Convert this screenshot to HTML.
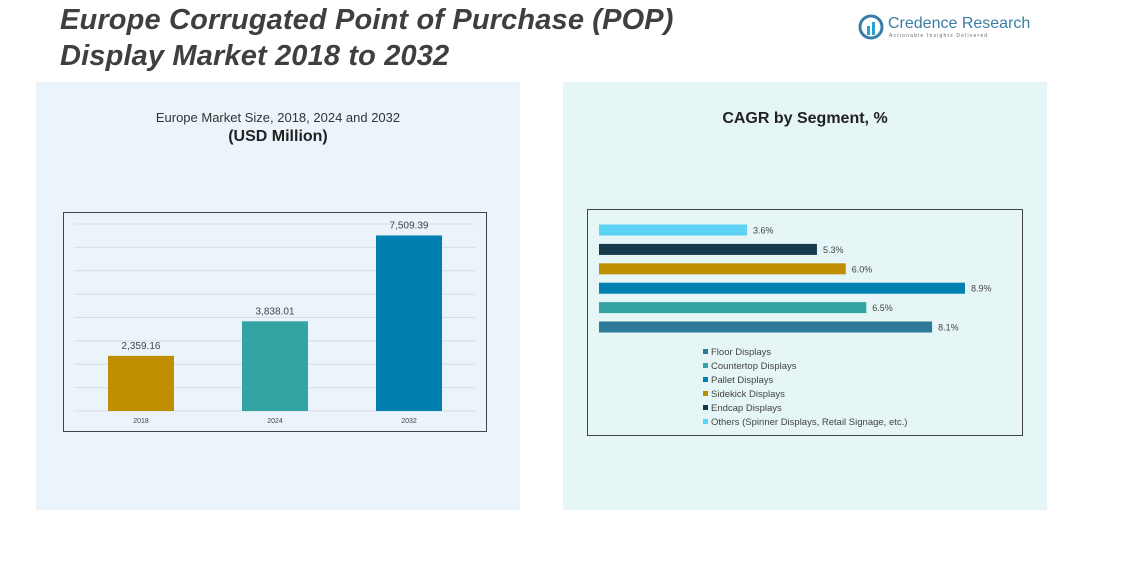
<!DOCTYPE html>
<html><head><meta charset="utf-8">
<style>
body{margin:0;width:1127px;height:582px;background:#fff;font-family:"Liberation Sans",sans-serif;overflow:hidden;position:relative}
.t{position:absolute;left:60px;font-size:29px;font-weight:bold;font-style:italic;color:#3f3f3f;letter-spacing:0.15px}
</style></head><body>
<div class="t" style="top:4px">Europe Corrugated Point of Purchase (POP)</div>
<div class="t" style="top:40px">Display Market 2018 to 2032</div>
<div style="position:absolute;left:858px;top:14px">
<svg width="26" height="26"><circle cx="13" cy="13" r="11" fill="none" stroke="#3a7ca5" stroke-width="3"/><rect x="9" y="12" width="3" height="9" fill="#2a9fd6"/><rect x="14" y="8" width="3" height="13" fill="#2a9fd6"/></svg>
<span style="position:absolute;left:30px;top:1px;font-size:16px;color:#3a7ca5;white-space:nowrap">Credence Research</span>
<span style="position:absolute;left:31px;top:19px;font-size:5px;color:#666;letter-spacing:1.2px;white-space:nowrap">Actionable Insights Delivered</span>
</div>
<div style="position:absolute;left:36px;top:82px;width:484px;height:428px;background:#ebf4fa"></div>
<div style="position:absolute;left:563px;top:82px;width:484px;height:428px;background:#e6f5f5"></div>
<div style="position:absolute;left:36px;width:484px;top:110px;text-align:center;font-size:13px;color:#333">Europe Market Size, 2018, 2024 and 2032</div>
<div style="position:absolute;left:36px;width:484px;top:128px;text-align:center;font-size:16px;font-weight:bold;color:#222">(USD Million)</div>
<div style="position:absolute;left:563px;width:484px;top:110px;text-align:center;font-size:16px;font-weight:bold;color:#222">CAGR by Segment, %</div>
<svg id="s" width="1127" height="582" style="position:absolute;left:0;top:0"></svg>
<script>
const years=["2018","2024","2032"];
const sizes=[2359.16,3838.01,7509.39];
const sizeLabels=["2,359.16","3,838.01","7,509.39"];
const sizeColors=["#bf8f00","#33a3a3","#0080b0"];
const segments=["Floor Displays","Countertop Displays","Pallet Displays","Sidekick Displays","Endcap Displays","Others (Spinner Displays, Retail Signage, etc.)"];
const cagr=[8.1,6.5,8.9,6.0,5.3,3.6];
const segColors=["#2e7b99","#33a3a3","#0080b0","#bf8f00","#173a4a","#5cd2f5"];
const gridTicks=[0,1000,2000,3000,4000,5000,6000,7000,8000];
const NS="http://www.w3.org/2000/svg",s=document.getElementById('s');
function el(t,a,txt){const e=document.createElementNS(NS,t);for(const k in a)e.setAttribute(k,a[k]);if(txt!=null)e.textContent=txt;s.appendChild(e);return e;}
let f=el('rect',{x:63.5,y:212.5,width:423,height:219,fill:'none',stroke:'#444','stroke-width':1});


const y0=411,ys=v=>y0-v*(187/8000);
gridTicks.forEach(v=>{const g=el('line',{x1:74,x2:475,y1:ys(v),y2:ys(v),stroke:'#d8dde0'});

});
const xs=i=>108+i*134;
years.forEach((y,i)=>{
const b=el('rect',{x:xs(i),y:ys(sizes[i]),width:66,height:y0-ys(sizes[i]),fill:sizeColors[i]});


const l=el('text',{x:xs(i)+33,y:ys(sizes[i])-7,'text-anchor':'middle','font-size':10,fill:'#444'},sizeLabels[i]);


const xl=el('text',{x:xs(i)+33,y:423,'text-anchor':'middle','font-size':7,fill:'#444'},y);


});
f=el('rect',{x:587.5,y:209.5,width:435,height:226,fill:'none',stroke:'#444','stroke-width':1});


const xw=v=>v*(366/8.9);
segments.forEach((n,i)=>{
const cy=327-i*19.4;
const b=el('rect',{x:599,y:cy-5.5,width:xw(cagr[i]),height:11,fill:segColors[i]});


const l=el('text',{x:599+xw(cagr[i])+6,y:cy+3.5,'font-size':9,fill:'#444'},cagr[i].toFixed(1)+'%');


const ly=352+i*14;
const m=el('rect',{x:703,y:ly-3,width:5,height:5,fill:segColors[i]});


const t=el('text',{x:711,y:ly+3,'font-size':9.5,fill:'#444'},n);


});
</script>
</body></html>
